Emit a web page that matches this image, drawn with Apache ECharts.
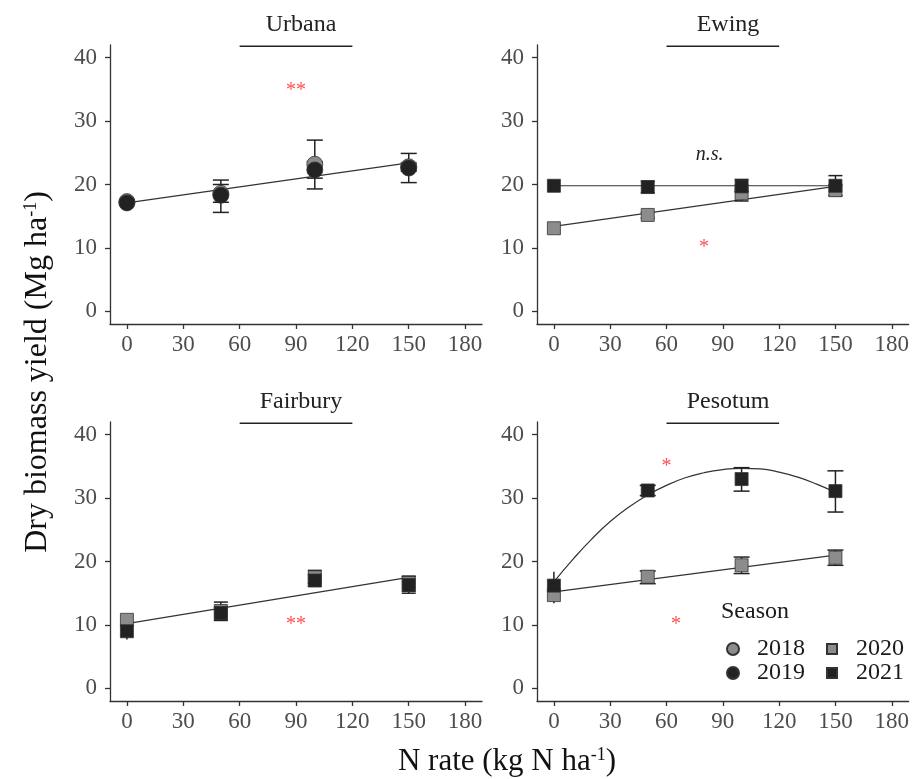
<!DOCTYPE html>
<html>
<head>
<meta charset="utf-8">
<script src="https://cdn.jsdelivr.net/npm/echarts@6/dist/echarts.min.js"></script>
<style>
  html, body { margin: 0; padding: 0; background: #fff; }
  #main { width: 912px; height: 779px; }
</style>
</head>
<body>
<div id="main"></div>
<script>
var chart = echarts.init(document.getElementById("main"));

// N rates and axis ticks
var nRate = [0, 50, 100, 150];
var xTicks = [0, 30, 60, 90, 120, 150, 180];
var yTicks = [0, 10, 20, 30, 40];
var sites = ["Urbana", "Ewing", "Fairbury", "Pesotum"];

// Urbana (2018, 2019)
var urbana2018 = [17.3, 18.6, 23.2, 22.8];
var urbana2018Lo = [16.8, 17.2, 19.3, 22.1];
var urbana2018Hi = [17.7, 20.0, 27.0, 23.4];
var urbana2019 = [17.1, 18.3, 22.3, 22.6];
var urbana2019Lo = [15.9, 15.6, 21.0, 20.3];
var urbana2019Hi = [17.6, 20.7, 23.6, 24.9];

// Ewing (2020, 2021)
var ewing2020 = [13.1, 15.2, 18.6, 19.1];
var ewing2020Lo = [12.9, 14.7, 17.4, 18.2];
var ewing2020Hi = [13.3, 15.6, 19.9, 19.9];
var ewing2021 = [19.8, 19.6, 19.7, 19.8];
var ewing2021Lo = [19.6, 18.7, 18.9, 18.3];
var ewing2021Hi = [20.0, 20.5, 20.8, 21.4];

// Fairbury (2020, 2021)
var fairbury2020 = [10.8, 12.2, 17.5, 16.6];
var fairbury2020Lo = [10.5, 10.9, 16.5, 15.3];
var fairbury2020Hi = [11.0, 13.6, 18.6, 17.7];
var fairbury2021 = [9.0, 11.9, 17.0, 16.3];
var fairbury2021Lo = [7.7, 10.7, 16.1, 15.0];
var fairbury2021Hi = [9.3, 12.8, 18.0, 17.6];

// Pesotum (2020, 2021)
var pesotum2020 = [14.7, 17.6, 19.4, 20.6];
var pesotum2020Lo = [13.6, 16.5, 18.1, 19.4];
var pesotum2020Hi = [15.4, 18.5, 20.7, 21.8];
var pesotum2021 = [16.2, 31.2, 33.0, 31.1];
var pesotum2021Lo = [13.4, 30.4, 31.1, 27.8];
var pesotum2021Hi = [18.4, 32.0, 34.8, 34.3];

// fitted response lines
var fitX = [0, 150];
var urbanaFit = [17.1, 23.4];
var ewingFit2020 = [13.4, 19.7];
var ewingFit2021 = [19.8, 19.8];
var fairburyFit = [10.2, 17.5];
var pesotumFit2020 = [15.2, 21.0];
var curveX = [0, 10, 20, 30, 40, 50, 60, 70, 80, 90, 100, 110, 120, 130, 140, 150];
var pesotumCurve2021 = [16.8, 20.3, 23.5, 26.3, 28.6, 30.5, 32.0, 33.2, 34.0, 34.5, 34.7, 34.6, 34.1, 33.3, 32.2, 30.9];

// bar under the panel title (x from 60 to 120)
var stripX = [60, 120];
var stripY = 41.8;

// significance labels: panel, x, y, text
var notePanel = [0, 1, 1, 2, 3, 3];
var noteX = [90, 83, 80, 90, 60, 65];
var noteY = [34.8, 24.7, 10.1, 10.1, 35.0, 10.0];
var noteText = ["**", "n.s.", "*", "**", "*", "*"];

var FONT = "'Liberation Serif', 'Times New Roman', serif";
var gridPos = [[110, 45], [537, 45], [110, 422], [537, 422]];
var GW = 372, GH = 279;
var GREY = "#8c8c8c", DARK = "#222222";

function pts(v) { return nRate.map(function (x, i) { return [x, v[i]]; }); }
function bars(lo, hi) { return nRate.map(function (x, i) { return [x, lo[i], hi[i]]; }); }
function pairs(xs, ys) { return xs.map(function (x, i) { return [x, ys[i]]; }); }

var grids = [], xAxes = [], yAxes = [], series = [], titles = [];

gridPos.forEach(function (p, g) {
    grids.push({ left: p[0], top: p[1], width: GW, height: GH });
    xAxes.push({
        type: "value", gridIndex: g, min: -9, max: 189,
        axisLine: { onZero: false, lineStyle: { color: "#333", width: 1.3 } },
        axisTick: { customValues: xTicks, length: 5, lineStyle: { color: "#333", width: 1.3 } },
        axisLabel: { customValues: xTicks, color: "#4d4d4d", fontFamily: FONT, fontSize: 23, margin: 9 },
        splitLine: { show: false }
    });
    yAxes.push({
        type: "value", gridIndex: g, min: -2, max: 42,
        axisLine: { onZero: false, lineStyle: { color: "#333", width: 1.3 } },
        axisTick: { customValues: yTicks, length: 5, lineStyle: { color: "#333", width: 1.3 } },
        axisLabel: { customValues: yTicks, color: "#4d4d4d", fontFamily: FONT, fontSize: 23, margin: 13 },
        splitLine: { show: false }
    });
    titles.push({
        text: sites[g], left: p[0] + GW / 2, top: p[1] - 37, textAlign: "center",
        textStyle: { fontFamily: FONT, fontSize: 24, fontWeight: "normal", color: "#222" }
    });
    series.push({
        type: "line", xAxisIndex: g, yAxisIndex: g, symbol: "none", silent: true,
        lineStyle: { color: "#222", width: 1.4 },
        data: stripX.map(function (x) { return [x, stripY]; })
    });
});

function fitLine(g, xs, ys, smooth) {
    series.push({
        type: "line", xAxisIndex: g, yAxisIndex: g, symbol: "none", silent: true,
        smooth: smooth ? 0.5 : false, z: 2,
        lineStyle: { color: "#333", width: 1.2 },
        data: pairs(xs, ys)
    });
}

// bars at the zero rate are drawn without caps, as in the source figure
function errBars(g, lo, hi, capW) {
    series.push({
        type: "custom", xAxisIndex: g, yAxisIndex: g, silent: true, z: 3,
        renderItem: function (params, api) {
            var x = api.value(0);
            var a = api.coord([x, api.value(1)]);
            var b = api.coord([x, api.value(2)]);
            var w = x === 0 ? 0 : capW / 2;
            var st = { stroke: "#222", lineWidth: 1.5 };
            return {
                type: "group", children: [
                    { type: "line", shape: { x1: a[0], y1: a[1], x2: b[0], y2: b[1] }, style: st },
                    { type: "line", shape: { x1: a[0] - w, y1: a[1], x2: a[0] + w, y2: a[1] }, style: st },
                    { type: "line", shape: { x1: b[0] - w, y1: b[1], x2: b[0] + w, y2: b[1] }, style: st }
                ]
            };
        },
        encode: { x: 0, y: [1, 2] },
        data: bars(lo, hi)
    });
}

function points(g, name, v, symbol, color, size) {
    series.push({
        name: name, type: "scatter", xAxisIndex: g, yAxisIndex: g, symbol: symbol,
        symbolSize: size, z: 4,
        itemStyle: { color: color, borderColor: "#333", borderWidth: 0.8, opacity: 1 },
        data: pts(v)
    });
}

// Urbana
fitLine(0, fitX, urbanaFit);
errBars(0, urbana2018Lo, urbana2018Hi, 16);
errBars(0, urbana2019Lo, urbana2019Hi, 16);
points(0, "2018", urbana2018, "circle", GREY, 16);
points(0, "2019", urbana2019, "circle", DARK, 16);

// Ewing
fitLine(1, fitX, ewingFit2020);
fitLine(1, fitX, ewingFit2021);
errBars(1, ewing2020Lo, ewing2020Hi, 14);
errBars(1, ewing2021Lo, ewing2021Hi, 14);
points(1, "2020", ewing2020, "rect", GREY, 13);
points(1, "2021", ewing2021, "rect", DARK, 13);

// Fairbury
fitLine(2, fitX, fairburyFit);
errBars(2, fairbury2020Lo, fairbury2020Hi, 14);
errBars(2, fairbury2021Lo, fairbury2021Hi, 14);
points(2, "2020", fairbury2020, "rect", GREY, 13);
points(2, "2021", fairbury2021, "rect", DARK, 13);

// Pesotum
fitLine(3, fitX, pesotumFit2020);
fitLine(3, curveX, pesotumCurve2021, true);
errBars(3, pesotum2020Lo, pesotum2020Hi, 16);
errBars(3, pesotum2021Lo, pesotum2021Hi, 16);
points(3, "2020", pesotum2020, "rect", GREY, 13);
points(3, "2021", pesotum2021, "rect", DARK, 13);

// significance notes
[0, 1, 2, 3].forEach(function (g) {
    var rows = [];
    notePanel.forEach(function (p, i) { if (p === g) rows.push([noteX[i], noteY[i], noteText[i]]); });
    series.push({
        type: "custom", xAxisIndex: g, yAxisIndex: g, silent: true, z: 5,
        renderItem: function (params, api) {
            var c = api.coord([api.value(0), api.value(1)]);
            var t = rows[params.dataIndex][2];
            var ns = t === "n.s.";
            return {
                type: "text", x: c[0], y: c[1],
                style: {
                    text: t, align: "center", verticalAlign: "middle",
                    fontFamily: FONT, fontSize: 20, fontStyle: ns ? "italic" : "normal",
                    fill: ns ? "#222" : "#ff5050"
                }
            };
        },
        encode: { x: 0, y: 1 },
        data: rows
    });
});

chart.setOption({
    backgroundColor: "#fff",
    animation: false,
    title: titles,
    grid: grids,
    xAxis: xAxes,
    yAxis: yAxes,
    legend: [
        {
            data: [{ name: "2018", icon: "circle" }, { name: "2019", icon: "circle" }],
            orient: "vertical", left: 726, top: 637, padding: 0,
            itemWidth: 12, itemHeight: 12, itemGap: 0, selectedMode: false,
            textStyle: { fontFamily: FONT, fontSize: 24, color: "#1a1a1a", padding: [0, 0, 0, 13] }
        },
        {
            data: [{ name: "2020", icon: "rect" }, { name: "2021", icon: "rect" }],
            orient: "vertical", left: 826, top: 637, padding: 0,
            itemWidth: 10, itemHeight: 10, itemGap: 0, selectedMode: false,
            textStyle: { fontFamily: FONT, fontSize: 24, color: "#1a1a1a", padding: [0, 0, 0, 14] }
        }
    ],
    graphic: [
        {
            type: "text", left: 721, top: 600,
            style: { text: "Season", fontFamily: FONT, fontSize: 24, fill: "#1a1a1a" }
        },
        {
            type: "text", x: 507, y: 762,
            style: {
                text: "N rate (kg N ha{sup|-1})", align: "center", verticalAlign: "middle",
                fontFamily: FONT, fontSize: 31, fill: "#111",
                rich: { sup: { fontFamily: FONT, fontSize: 18, verticalAlign: "top", fill: "#111" } }
            }
        },
        {
            type: "text", x: 38, y: 372, rotation: Math.PI / 2,
            style: {
                text: "Dry biomass yield (Mg ha{sup|-1})", align: "center", verticalAlign: "middle",
                fontFamily: FONT, fontSize: 32, fill: "#111",
                rich: { sup: { fontFamily: FONT, fontSize: 18, verticalAlign: "top", fill: "#111" } }
            }
        }
    ],
    series: series
});
</script>
</body>
</html>
